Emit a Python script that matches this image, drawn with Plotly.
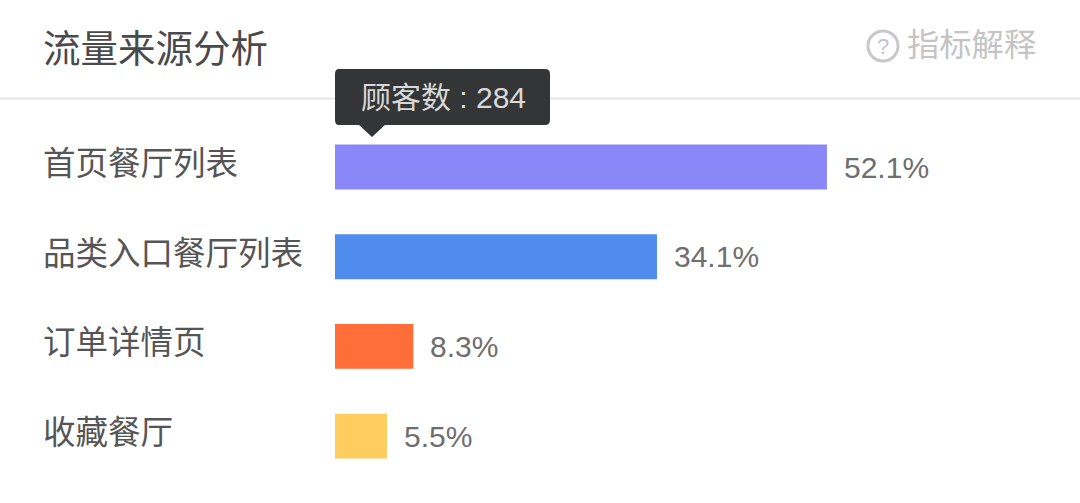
import plotly.graph_objects as go

W = 1080
H = 503

categories = ['首页餐厅列表', '品类入口餐厅列表', '订单详情页', '收藏餐厅']
shares = [52.1, 34.1, 8.3, 5.5]
share_labels = ['52.1%', '34.1%', '8.3%', '5.5%']
colors = ['#8a87f8', '#508cee', '#ff6d38', '#ffcc5e']

title = '流量来源分析'
help_text = '指标解释'
tip_text = '顾客数 : 284'

FONT = 'Liberation Sans, Noto Sans CJK SC, sans-serif'


def px(x):
    return x / W


def py(y):
    return 1 - y / H


fig = go.Figure()

fig.add_trace(go.Bar(
    x=shares,
    y=list(range(len(categories))),
    orientation='h',
    width=0.5,
    marker=dict(color=colors, line=dict(width=0)),
    hoverinfo='skip',
))

# category names sit left aligned, a little above the bar centre
for i, name in enumerate(categories):
    fig.add_annotation(
        x=px(41), xref='paper', xanchor='left',
        y=i, yref='y', yanchor='middle', yshift=3,
        text=name, showarrow=False,
        font=dict(family=FONT, size=32.5, color='#555555'),
    )
    fig.add_annotation(
        x=shares[i], xref='x', xanchor='left', xshift=15,
        y=i, yref='y', yanchor='middle',
        text=share_labels[i], showarrow=False,
        font=dict(family=FONT, size=30, color='#6e6e6e'),
    )

fig.add_annotation(
    x=px(41), xref='paper', xanchor='left',
    y=py(49), yref='paper', yanchor='middle',
    text=title, showarrow=False,
    font=dict(family=FONT, size=37.5, color='#4a4a4a'),
)
fig.add_annotation(
    x=px(905), xref='paper', xanchor='left',
    y=py(45), yref='paper', yanchor='middle',
    text=help_text, showarrow=False,
    font=dict(family=FONT, size=32.3, color='#c4c4c4'),
)
fig.add_annotation(
    x=px(883), xref='paper', xanchor='center',
    y=py(46), yref='paper', yanchor='middle',
    text='?', showarrow=False,
    font=dict(family=FONT, size=22, color='#c4c4c4'),
)
fig.add_annotation(
    x=px(443), xref='paper', xanchor='center',
    y=py(97), yref='paper', yanchor='middle',
    text=tip_text, showarrow=False,
    font=dict(family=FONT, size=30, color='#d8d8d8'),
)

# header rule, help icon, tooltip box and its pointer
shapes = [
    dict(type='line', xref='paper', yref='paper',
         x0=0, x1=1, y0=py(98.5), y1=py(98.5),
         line=dict(color='#e6e6e6', width=2)),
    dict(type='circle', xref='paper', yref='paper',
         x0=px(868), x1=px(898), y0=py(31), y1=py(61),
         line=dict(color='#c8c8c8', width=3)),
    dict(type='path', xref='paper', yref='paper',
         path=(f'M {px(339)} {py(69)} L {px(545)} {py(69)} '
               f'Q {px(550)} {py(69)} {px(550)} {py(74)} '
               f'L {px(550)} {py(120)} '
               f'Q {px(550)} {py(125)} {px(545)} {py(125)} '
               f'L {px(385)} {py(125)} L {px(372)} {py(137)} L {px(359)} {py(125)} '
               f'L {px(339)} {py(125)} '
               f'Q {px(335)} {py(125)} {px(335)} {py(120)} '
               f'L {px(335)} {py(74)} '
               f'Q {px(335)} {py(69)} {px(339)} {py(69)} Z'),
         fillcolor='#333537', line=dict(width=0)),
]

fig.update_layout(
    width=W,
    height=H,
    margin=dict(l=0, r=0, t=0, b=0),
    paper_bgcolor='#ffffff',
    plot_bgcolor='#ffffff',
    showlegend=False,
    shapes=shapes,
    xaxis=dict(domain=[px(335), 1], range=[0, 78.9], visible=False, fixedrange=True),
    yaxis=dict(domain=[0, 1], range=[3.746, -1.862], visible=False, fixedrange=True),
)

fig.write_html('out.html', config=dict(displayModeBar=False),
               post_script="document.body.style.margin='0';")
